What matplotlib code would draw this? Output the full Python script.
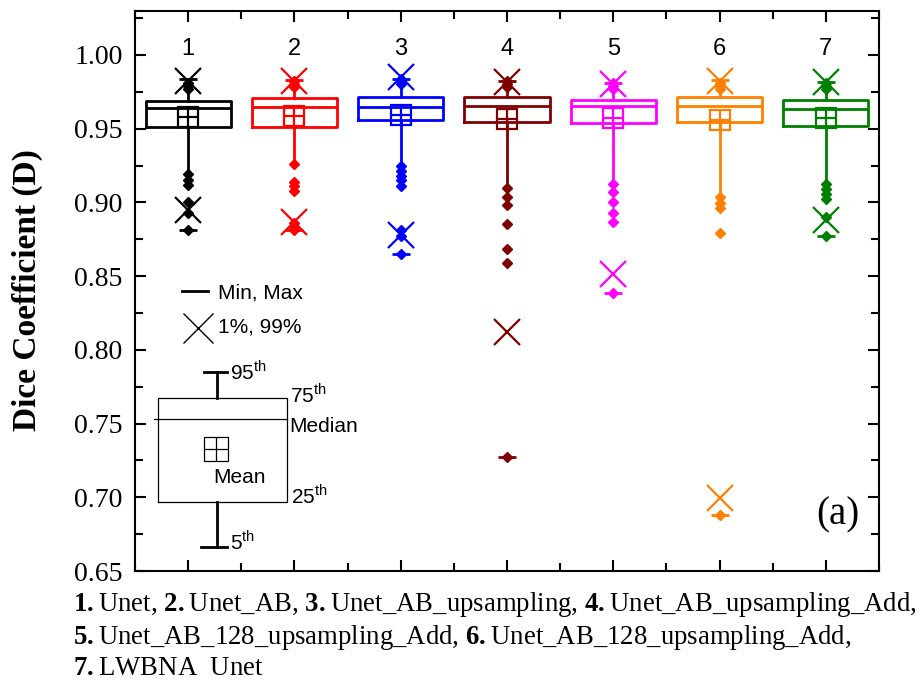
import matplotlib
matplotlib.use('Agg')
import matplotlib.pyplot as plt
from matplotlib.ticker import MultipleLocator, FormatStrFormatter, NullFormatter

plt.rcParams['mathtext.fontset'] = 'custom'
plt.rcParams['mathtext.bf'] = 'Liberation Serif:bold'
plt.rcParams['mathtext.rm'] = 'Liberation Serif'
plt.rcParams['mathtext.sf'] = 'Liberation Sans'

# ---------------- data ----------------
labels = ['1', '2', '3', '4', '5', '6', '7']
positions = [1, 2, 3, 4, 5, 6, 7]
colors = ['#000000', '#FF0000', '#0000FF', '#7F0000', '#FF00FF', '#FF8000', '#008000']

q1 = [0.9514, 0.9510, 0.9560, 0.9543, 0.9540, 0.9543, 0.9520]
median = [0.9638, 0.9650, 0.9650, 0.9657, 0.9657, 0.9657, 0.9634]
q3 = [0.9690, 0.9709, 0.9713, 0.9717, 0.9697, 0.9717, 0.9695]
mean = [0.9579, 0.9589, 0.9594, 0.9563, 0.9570, 0.9558, 0.9574]
whisk_lo = [0.921, 0.928, 0.928, 0.911, 0.913, 0.905, 0.913]
whisk_hi = [0.975, 0.975, 0.976, 0.975, 0.975, 0.975, 0.975]
p1 = [0.895, 0.887, 0.8776, 0.812, 0.8516, 0.6992, 0.888]
p99 = [0.982, 0.982, 0.985, 0.9814, 0.980, 0.9826, 0.9814]
vmin = [0.881, 0.881, 0.865, 0.727, 0.8385, 0.6883, 0.877]
vmax = [0.984, 0.983, 0.984, 0.9826, 0.981, 0.983, 0.9814]
low_outliers = [
    [0.919, 0.915, 0.912, 0.900, 0.893, 0.881],
    [0.9257, 0.914, 0.911, 0.908, 0.886, 0.883, 0.881],
    [0.925, 0.9216, 0.918, 0.915, 0.911, 0.881, 0.877, 0.865],
    [0.910, 0.9035, 0.8984, 0.8855, 0.8686, 0.8588, 0.727],
    [0.9126, 0.907, 0.900, 0.8927, 0.8866, 0.8385],
    [0.9035, 0.8995, 0.8963, 0.8794, 0.6883],
    [0.9126, 0.909, 0.9058, 0.9024, 0.890, 0.877],
]
high_outliers = [
    [0.977, 0.979, 0.981],
    [0.978, 0.980, 0.982],
    [0.980, 0.982, 0.984],
    [0.978, 0.980, 0.982],
    [0.977, 0.979, 0.981],
    [0.977, 0.979, 0.981],
    [0.977, 0.979, 0.981],
]

ytick_vals = [0.65, 0.70, 0.75, 0.80, 0.85, 0.90, 0.95, 1.00]

# key (schematic legend) values
key_box_x = [0.715, 1.929]
key_median_x = [0.680, 1.929]
key_q1, key_med, key_q3 = 0.6971, 0.753, 0.7676
key_p5, key_p95 = 0.6661, 0.7852
key_whisk_x = 1.27
key_cap_top_x = [1.15, 1.364]
key_cap_bot_x = [1.12, 1.364]
key_mean = (1.263, 0.7328)
key_minmax_line = ([0.941, 1.191], 0.8402)
key_x_marker = (1.094, 0.8147)

caption_lines = [
    r"$\mathbf{1.}$Unet, $\mathbf{2.}$Unet_AB, $\mathbf{3.}$Unet_AB_upsampling, $\mathbf{4.}$Unet_AB_upsampling_Add,",
    r"$\mathbf{5.}$Unet_AB_128_upsampling_Add, $\mathbf{6.}$Unet_AB_128_upsampling_Add,",
    r"$\mathbf{7.}$LWBNA  Unet",
]

# ---------------- figure ----------------
W, H = 921, 682
fig = plt.figure(figsize=(W / 100, H / 100), dpi=100)
ax = fig.add_axes([135 / W, (H - 571) / H, 744 / W, 560.3 / H])
ax.set_xlim(0.5, 7.5)
ax.set_ylim(0.65, 1.03)

stats = []
for i in range(len(positions)):
    stats.append(dict(med=median[i], q1=q1[i], q3=q3[i], whislo=whisk_lo[i],
                      whishi=whisk_hi[i], fliers=[], mean=mean[i]))
bp = ax.bxp(stats, positions=positions, widths=0.8, showcaps=False,
            showfliers=False, showmeans=False,
            boxprops=dict(linewidth=2.0), medianprops=dict(linewidth=2.0),
            whiskerprops=dict(linewidth=2.0))
for i, c in enumerate(colors):
    bp['boxes'][i].set_color(c)
    bp['medians'][i].set_color(c)
    bp['whiskers'][2 * i].set_color(c)
    bp['whiskers'][2 * i + 1].set_color(c)

for i, c in enumerate(colors):
    pos = positions[i]
    ax.plot([pos], [mean[i]], ls='none', marker='s', ms=15, mfc='none', mec=c, mew=1.6, zorder=4)
    ax.plot([pos], [mean[i]], ls='none', marker='+', ms=15, mec=c, mew=1.6, zorder=4)
    lo = low_outliers[i]
    hi = high_outliers[i]
    ax.plot([pos] * len(lo), lo, ls='none', marker='D', ms=5.5, color=c, zorder=5)
    ax.plot([pos] * len(hi), hi, ls='none', marker='D', ms=5.5, color=c, zorder=5)
    ax.plot([pos, pos], [p1[i], p99[i]], ls='none', marker='x', ms=19, mew=1.6, color=c, zorder=6)
    ax.plot([pos, pos], [vmin[i], vmax[i]], ls='none', marker='_', ms=13, mew=2.0, color=c, zorder=6)
    ax.text(pos, 1.0, labels[i], ha='center', va='baseline', fontsize=17,
            family='Liberation Sans')

# ---------- key ----------
kc = 'black'
ax.plot([key_box_x[0], key_box_x[1], key_box_x[1], key_box_x[0], key_box_x[0]],
        [key_q1, key_q1, key_q3, key_q3, key_q1], color=kc, lw=0.9)
ax.plot(key_median_x, [key_med, key_med], color=kc, lw=0.9)
ax.plot([key_whisk_x, key_whisk_x], [key_q3, key_p95], color=kc, lw=2.0)
ax.plot([key_whisk_x, key_whisk_x], [key_q1, key_p5], color=kc, lw=2.0)
ax.plot(key_cap_top_x, [key_p95, key_p95], color=kc, lw=2.0)
ax.plot(key_cap_bot_x, [key_p5, key_p5], color=kc, lw=2.0)
ax.plot([key_mean[0]], [key_mean[1]], marker='s', ms=17, mfc='none', mec=kc, mew=0.9)
ax.plot([key_mean[0]], [key_mean[1]], marker='+', ms=17, mec=kc, mew=0.9)
ax.plot(key_minmax_line[0], [key_minmax_line[1]] * 2, color=kc, lw=2.0)
ax.plot([key_x_marker[0]], [key_x_marker[1]], marker='x', ms=21, mec=kc, mew=1.0)

kf = dict(fontsize=15, family='Liberation Sans', va='baseline', ha='left')
ax.text(1.282, 0.835, 'Min, Max', **kf)
ax.text(1.282, 0.8117, '1%, 99%', **kf)
ax.text(1.39, 0.7796, r'95$^{\mathsf{th}}$', **kf)
ax.text(1.955, 0.7642, r'75$^{\mathsf{th}}$', **kf)
ax.text(1.955, 0.7446, 'Median', **kf)
ax.text(1.235, 0.7096, 'Mean', **kf)
ax.text(1.97, 0.696, r'25$^{\mathsf{th}}$', **kf)
ax.text(1.39, 0.6646, r'5$^{\mathsf{th}}$', **kf)

ax.text(7.32, 0.6813, '(a)', ha='right', va='baseline', fontsize=28,
        family='Liberation Serif')

# ---------- axes styling ----------
for s in ax.spines.values():
    s.set_linewidth(1.5)
ax.set_xticks(positions)
ax.xaxis.set_minor_locator(MultipleLocator(0.5))
ax.xaxis.set_major_formatter(NullFormatter())
ax.set_yticks(ytick_vals)
ax.yaxis.set_minor_locator(MultipleLocator(0.025))
ax.yaxis.set_major_formatter(FormatStrFormatter('%.2f'))
ax.tick_params(which='both', direction='in', top=True, right=True, width=1.5)
ax.tick_params(which='major', length=8)
ax.tick_params(which='minor', length=5.5)
ax.tick_params(axis='y', which='major', pad=9, labelsize=20)
for lab in ax.get_yticklabels():
    lab.set_family('Liberation Serif')

fig.text(27 / W, 1 - 290 / H, 'Dice Coefficient (D)', rotation=90, ha='center', va='center',
         fontsize=24, fontweight='bold', family='Liberation Serif')

baselines = [611, 643.5, 675]
for line, b in zip(caption_lines, baselines):
    fig.text(73 / W, 1 - b / H, line, ha='left', va='baseline', fontsize=19.3,
             family='Liberation Serif')

fig.savefig('out.png', dpi=100)
